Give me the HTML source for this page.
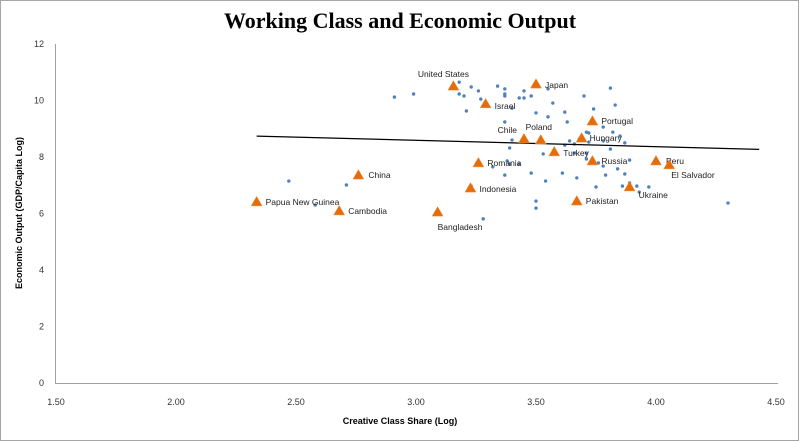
<!DOCTYPE html>
<html><head><meta charset="utf-8"><style>
body{margin:0;background:#fff;}
#wrap{width:800px;height:442px;position:relative;overflow:hidden;}
text{font-family:"Liberation Sans",sans-serif;}
</style></head><body>
<div id="wrap">
<svg id="chart" width="800" height="442">
<rect x="0.5" y="0.5" width="798" height="440" fill="#fff" stroke="#a6a6a6"/>
<text x="400" y="28" text-anchor="middle" font-family="Liberation Serif,serif" font-weight="bold" font-size="22" style="font-family:'Liberation Serif',serif">Working Class and Economic Output</text>
<text x="400" y="424" text-anchor="middle" font-size="9" font-weight="bold">Creative Class Share (Log)</text>
<text transform="translate(22,213) rotate(-90)" text-anchor="middle" font-size="9" font-weight="bold">Economic Output (GDP/Capita Log)</text>
</svg>
</div>
<script>
const xTicks=[1.5,2,2.5,3,3.5,4,4.5];
const yTicks=[0,2,4,6,8,10,12];
const dotX=[2.91,2.99,3.18,3.23,3.26,3.34,3.37,3.37,3.37,3.45,3.43,3.45,3.48,3.55,3.18,3.20,3.27,3.40,3.57,3.70,3.81,3.83,3.21,3.50,3.55,3.62,3.63,3.74,3.37,3.78,3.71,3.72,3.82,3.85,3.40,3.64,3.68,3.62,3.66,3.72,3.78,3.87,3.39,3.53,3.66,3.71,3.81,3.71,3.76,3.78,3.84,3.89,3.38,3.39,3.43,3.32,3.37,3.48,3.54,3.61,3.67,3.79,3.87,3.23,3.75,3.86,3.89,3.92,3.97,3.93,3.50,3.50,3.28,2.47,2.71,4.30,2.58];
const dotY=[10.12,10.23,10.65,10.48,10.34,10.51,10.41,10.23,10.16,10.34,10.09,10.09,10.16,10.41,10.23,10.16,10.05,9.73,9.91,10.16,10.44,9.84,9.63,9.56,9.42,9.59,9.24,9.70,9.24,9.06,8.88,8.85,8.88,8.74,8.60,8.57,8.64,8.42,8.46,8.53,8.57,8.50,8.32,8.11,8.14,8.14,8.28,7.93,7.79,7.68,7.58,7.89,7.86,7.75,7.75,7.65,7.36,7.43,7.15,7.43,7.26,7.36,7.40,6.97,6.94,6.97,7.08,6.97,6.94,6.76,6.44,6.19,5.81,7.15,7.01,6.37,6.30];
const wcNames=["United States","Japan","Israel","Portugal","Chile","Poland","Hungary","Turkey","Romania","Russia","Peru","El Salvador","China","Indonesia","Ukraine","Pakistan","Papua New Guinea","Cambodia","Bangladesh"];
const wcX=[3.156,3.50,3.29,3.735,3.45,3.52,3.69,3.576,3.26,3.735,4.0,4.055,2.76,3.227,3.89,3.67,2.336,2.68,3.09];
const wcY=[10.51,10.58,9.88,9.27,8.64,8.60,8.67,8.18,7.79,7.86,7.86,7.72,7.36,6.90,6.94,6.44,6.41,6.09,6.05];
const trendX=[2.336,4.43];
const trendY=[8.74,8.27];
const lblOff={"United States":[-10,-12,"middle"],"Japan":[9,1,"start"],"Israel":[9,2,"start"],"Portugal":[9,0,"start"],"Chile":[-7,-9,"end"],"Poland":[-2,-13,"middle"],"Hungary":[8,0,"start"],"Turkey":[9,1,"start"],"Romania":[9,0,"start"],"Russia":[9,0,"start"],"Peru":[10,0,"start"],"El Salvador":[2,10,"start"],"China":[10,0,"start"],"Indonesia":[9,1,"start"],"Ukraine":[9,8,"start"],"Pakistan":[9,0,"start"],"Papua New Guinea":[9,0,"start"],"Cambodia":[9,0,"start"],"Bangladesh":[0,15,"start"]};
const NS="http://www.w3.org/2000/svg";
const svg=document.getElementById('chart');
const X0=56,XS=240,Y0=383,YS=28.25;
const sx=v=>X0+(v-1.5)*XS;
const sy=v=>Y0-v*YS;
function mk(tag,attrs){const e=document.createElementNS(NS,tag);for(const k in attrs)e.setAttribute(k,attrs[k]);svg.appendChild(e);return e;}
let a=mk('line',{x1:55.5,y1:sy(12),x2:55.5,y2:Y0+0.5,stroke:'#a0a0a0'});


a=mk('line',{x1:55,y1:Y0+0.5,x2:778,y2:Y0+0.5,stroke:'#a0a0a0'});


xTicks.forEach(t=>{const e=mk('text',{x:sx(t),y:405,'text-anchor':'middle','font-size':9,fill:'#333'});e.textContent=t.toFixed(2);

});
yTicks.forEach(t=>{const e=mk('text',{x:44,y:sy(t)+3,'text-anchor':'end','font-size':9,fill:'#333'});e.textContent=t;

});
dotX.forEach((x,i)=>{const c=mk('circle',{cx:sx(x),cy:sy(dotY[i]),r:1.7,fill:'#4f81bd'});

});
const tl=mk('line',{x1:sx(trendX[0]),y1:sy(trendY[0]),x2:sx(trendX[1]),y2:sy(trendY[1]),stroke:'#000','stroke-width':1.3});


wcX.forEach((x,i)=>{const cx=sx(x),cy=sy(wcY[i]);
const p=mk('polygon',{points:`${cx},${cy-5.5} ${cx+5.5},${cy+4} ${cx-5.5},${cy+4}`,fill:'#e46c0a',stroke:'#f79646','stroke-width':0.5});


const o=lblOff[wcNames[i]];
const t=mk('text',{x:cx+o[0],y:cy+o[1]+3,'text-anchor':o[2],'font-size':8.5,fill:'#222'});t.textContent=wcNames[i];

});
</script>
</body></html>
